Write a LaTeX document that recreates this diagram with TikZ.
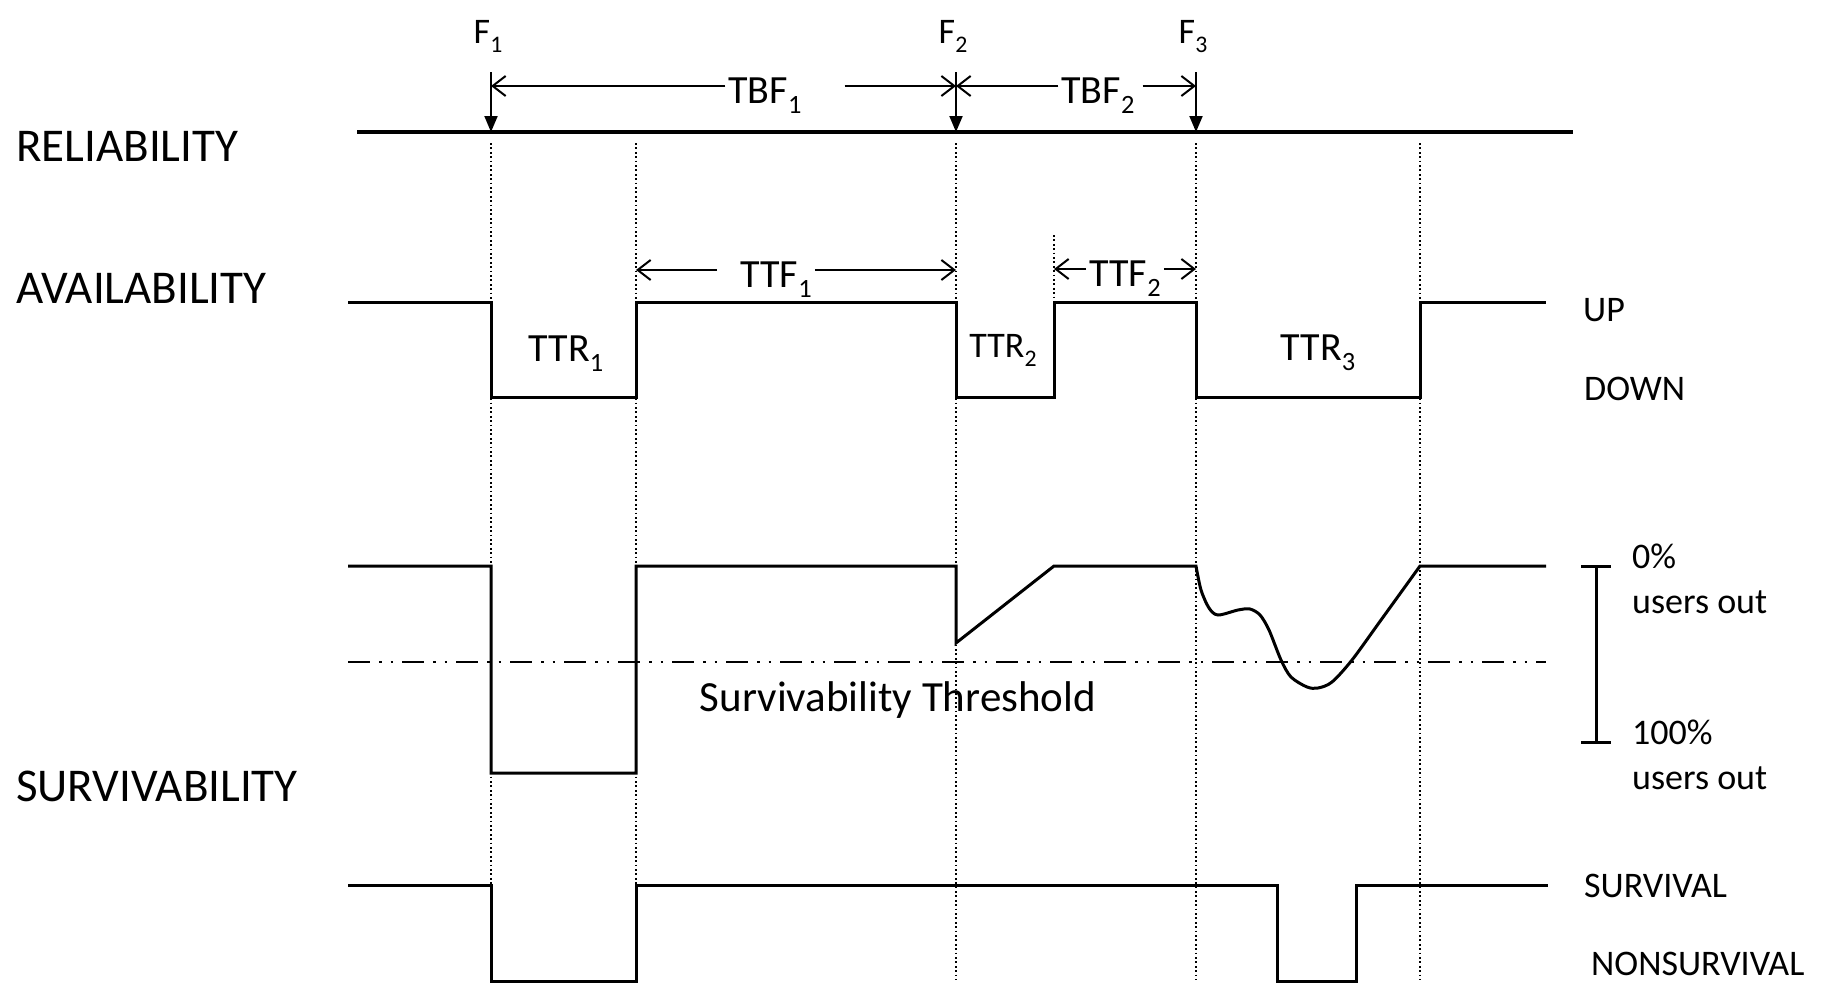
\documentclass[tikz,border=0pt]{standalone}
\usepackage{fontspec}
\setmainfont{Carlito}
\usetikzlibrary{arrows.meta}
\makeatletter
\newcommand{\lowidx}[1]{\raisebox{-.27em}{\fontsize{\fpeval{0.66*\f@size}}{0}\selectfont #1}}
\makeatother

\begin{document}
\begin{tikzpicture}[x=1pt, y=-1pt,
    wave/.style={line width=3pt},
    guide/.style={line width=1.8pt, dash pattern=on 1.8pt off 2.6pt},
    thr/.style={line width=2.5pt, dash pattern=on 22pt off 9pt on 2.5pt off 9pt on 2.5pt off 9pt},
    dim/.style={line width=2pt, -{Straight Barb[length=13pt, width=20pt]}},
    fall/.style={line width=2pt, -{Triangle[length=16pt, width=13pt]}},
    head/.style={anchor=base west, inner sep=0pt, font=\fontsize{47}{56}\selectfont},
    side/.style={anchor=base west, inner sep=0pt, font=\fontsize{36}{43}\selectfont},
    lbl/.style={anchor=base, inner sep=0pt, font=\fontsize{40}{48}\selectfont},
    span/.style={inner xsep=3pt, inner ysep=0pt, text height=34pt, text depth=0pt, font=\fontsize{40}{48}\selectfont}
]
\useasboundingbox (0,0) rectangle (1830,985);

\coordinate (e1) at (491,143);
\coordinate (e2) at (636,143);
\coordinate (e3) at (956,143);
\coordinate (e4) at (1054,235);
\coordinate (e5) at (1196,143);
\coordinate (e6) at (1420,143);
\coordinate (upy) at (0,302);
\coordinate (bot) at (0,980);

\foreach \e in {e1,e2,e3,e5,e6}
  \draw[guide] (\e) -- (\e |- bot);
\draw[guide] (e4) -- (e4 |- upy);

\node[head] (rel) at (16,161) {RELIABILITY};
\node[head] (avail) at (16,303) {AVAILABILITY};
\node[head] (surv) at (16,801) {SURVIVABILITY};

\draw[line width=3.5pt] (357,132) -- (1573,132);
\foreach \n/\x in {1/491,2/956,3/1196} {
  \node[lbl, font=\fontsize{36}{43}\selectfont] (f\n) at (\x-3,43) {F\lowidx{\n}};
  \coordinate (t\n) at (\x,72);
  \coordinate (r\n) at (\x,132);
  \draw[fall] (t\n) -- (r\n);
}

\node[span] (tbf1) at (765,86) {TBF\lowidx{1}};
\node[span] (tbf2) at (1098,86) {TBF\lowidx{2}};
\node[span] (ttf1) at (776,270) {TTF\lowidx{1}};
\node[span] (ttf2) at (1125,269) {TTF\lowidx{2}};
\draw[dim] (tbf1.west) -- (tbf1 -| e1);
\draw[dim, shorten <=40pt] (tbf1.east) -- (tbf1 -| e3);
\draw[dim] (tbf2.west) -- (tbf2 -| e3);
\draw[dim, shorten <=5pt] (tbf2.east) -- (tbf2 -| e5);
\draw[dim, shorten <=20pt] (ttf1.west) -- (ttf1 -| e2);
\draw[dim] (ttf1.east) -- (ttf1 -| e3);
\draw[dim] (ttf2.west) -- (ttf2 -| e4);
\draw[dim] (ttf2.east) -- (ttf2 -| e5);

\draw[wave] (348,302) -| (491,397) -| (636,302) -| (956,397) -| (1054,302)
  -| (1196,397) -| (1420,302) -- (1546,302);
\node[lbl] (ttr1) at (566,361) {TTR\lowidx{1}};
\node[lbl, font=\fontsize{36}{43}\selectfont] (ttr2) at (1003,357) {TTR\lowidx{2}};
\node[lbl] (ttr3) at (1318,360) {TTR\lowidx{3}};
\node[side] (up) at (1583,321) {UP};
\node[side] (down) at (1584,400) {DOWN};

\draw[wave] (348,566) -| (491,773) -| (636,566) -| (956,643) -- (1054,566) -- (1196,566)
  -- plot[smooth, tension=0.5] coordinates {(1196,566) (1201,590) (1209,608) (1218,615)
  (1238,610) (1250,609) (1260,615) (1269,630) (1281,660) (1291,677) (1307,687)
  (1318,688) (1332,682) (1352,660) (1381,620) (1420,566)} -- (1546,566);
\draw[thr] (348,662) -- (1546,662);
\node[lbl, font=\fontsize{43}{52}\selectfont] (thrtext) at (898,711) {Survivability Threshold};

\draw[wave] (1581,566) -- (1611,566) (1596,566) -- (1596,742) (1581,742) -- (1611,742);
\node[side] (zero) at (1632,568) {0\%};
\node[side] (uo1) at (1632,613) {users out};
\node[side] (hund) at (1632,744) {100\%};
\node[side] (uo2) at (1632,789) {users out};

\draw[wave] (348,885) -| (491,981) -| (636,885) -| (1277,981) -| (1356,885) -- (1548,885);
\node[side] (survl) at (1584,897) {SURVIVAL};
\node[side] (nonsurv) at (1591,975) {NONSURVIVAL};
\end{tikzpicture}
\end{document}
